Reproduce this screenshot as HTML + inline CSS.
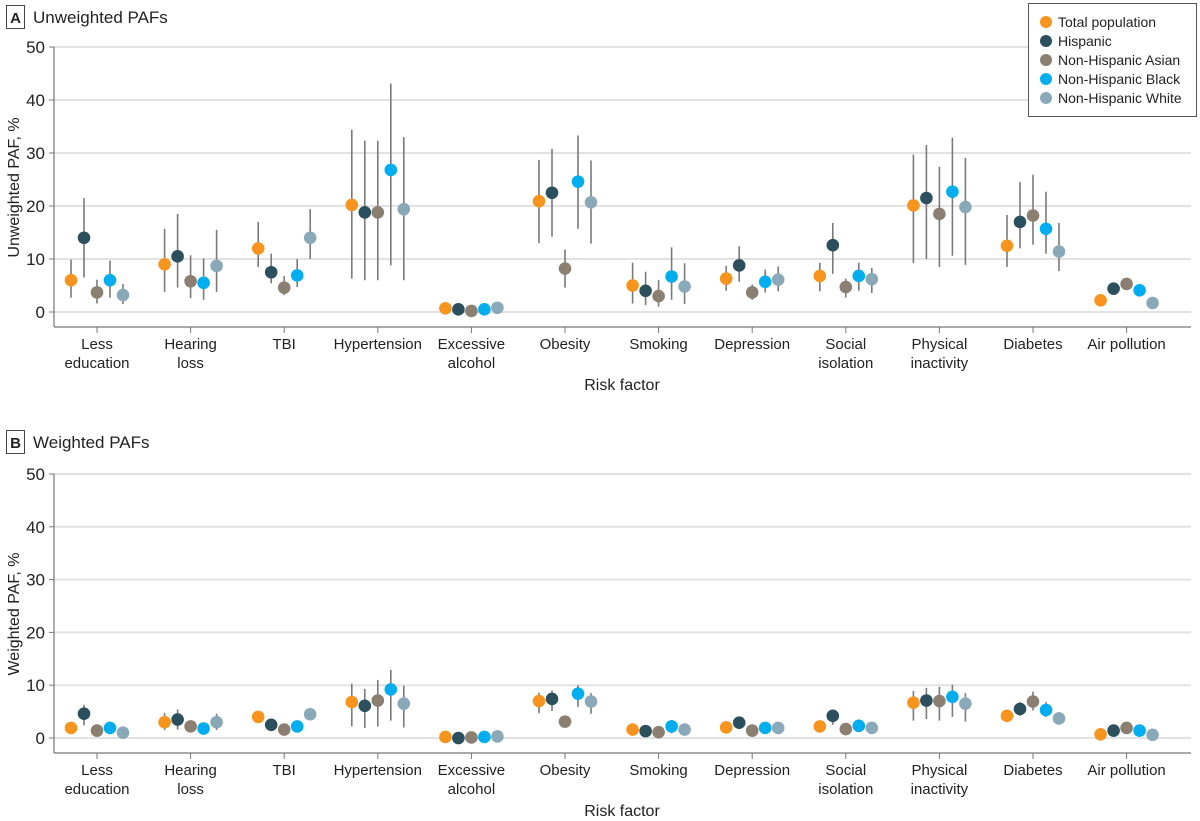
<!DOCTYPE html>
<html><head><meta charset="utf-8"><style>
html,body{margin:0;padding:0;background:#fff;}
svg{display:block;font-family:"Liberation Sans",sans-serif;}
</style></head><body>
<svg id="chart" width="1200" height="821" viewBox="0 0 1200 821" xmlns="http://www.w3.org/2000/svg">
<g>
<rect x="6.5" y="5.5" width="18" height="23" fill="none" stroke="#444" stroke-width="1"/>
<text x="15.5" y="23" font-size="15" font-weight="bold" text-anchor="middle" fill="#222">A</text>
<text x="33" y="23" font-size="17" fill="#222">Unweighted PAFs</text>
</g>
<g>
<rect x="6.5" y="430.5" width="18" height="23" fill="none" stroke="#444" stroke-width="1"/>
<text x="15.5" y="448" font-size="15" font-weight="bold" text-anchor="middle" fill="#222">B</text>
<text x="33" y="448" font-size="17" fill="#222">Weighted PAFs</text>
</g>
<g id="pa"></g>
<g id="pb"></g>
<g>
<rect x="1028.5" y="3.5" width="168" height="113" fill="#fff" stroke="#555" stroke-width="1"/>
<g><circle cx="1046" cy="22" r="6" fill="#f7941d"/><text x="1058" y="27" font-size="14" fill="#222">Total population</text></g>
<g><circle cx="1046" cy="41" r="6" fill="#2b4f5d"/><text x="1058" y="46" font-size="14" fill="#222">Hispanic</text></g>
<g><circle cx="1046" cy="60" r="6" fill="#8a7f70"/><text x="1058" y="65" font-size="14" fill="#222">Non-Hispanic Asian</text></g>
<g><circle cx="1046" cy="79" r="6" fill="#00aeef"/><text x="1058" y="84" font-size="14" fill="#222">Non-Hispanic Black</text></g>
<g><circle cx="1046" cy="98" r="6" fill="#8aa9b8"/><text x="1058" y="103" font-size="14" fill="#222">Non-Hispanic White</text></g>
</g>
</svg>
<script>
const categories = [["Less","education"],["Hearing","loss"],["TBI"],["Hypertension"],["Excessive","alcohol"],["Obesity"],["Smoking"],["Depression"],["Social","isolation"],["Physical","inactivity"],["Diabetes"],["Air pollution"]];
const seriesNames = ["Total population","Hispanic","Non-Hispanic Asian","Non-Hispanic Black","Non-Hispanic White"];
const seriesColors = ["#f7941d","#2b4f5d","#8a7f70","#00aeef","#8aa9b8"];
const yTicks = [0,10,20,30,40,50];
// Panel A: [category][series] = [estimate, low, high]
const unweightedTotal = [[6,2.7,9.9],[9,3.8,15.7],[12,8.5,17],[20.2,6.3,34.4],[0.7,0.7,0.7],[20.9,13,28.7],[5,1.6,9.3],[6.3,4,8.7],[6.8,3.9,9.3],[20.1,9.2,29.7],[12.5,8.5,18.3],[2.2,2.2,2.2]];
const unweightedHispanic = [[14,6.5,21.5],[10.5,4.6,18.5],[7.5,5.4,11],[18.8,6,32.3],[0.5,0.5,0.5],[22.5,14.2,30.8],[4,1.3,7.6],[8.8,5.7,12.4],[12.6,7.2,16.8],[21.5,10,31.5],[17,12,24.5],[4.4,3.5,5]];
const unweightedAsian = [[3.7,1.6,6.1],[5.8,2.6,10.7],[4.6,3.2,6.8],[18.8,6,32.3],[0.2,0.2,0.2],[8.2,4.6,11.8],[3,1,6],[3.7,2.3,5.2],[4.7,2.7,6.3],[18.5,8.5,27.4],[18.2,12.7,25.9],[5.3,4.5,6]];
const unweightedBlack = [[6,2.7,9.7],[5.5,2.3,10.1],[6.9,4.7,10],[26.8,8.8,43.1],[0.5,0.5,0.5],[24.6,15.7,33.3],[6.7,2.3,12.2],[5.7,3.7,8],[6.8,4,9.3],[22.7,10.6,32.9],[15.7,11,22.7],[4.1,3.5,4.8]];
const unweightedWhite = [[3.2,1.5,5.3],[8.7,3.8,15.5],[14,10,19.4],[19.4,6,33],[0.8,0.8,0.8],[20.7,12.9,28.6],[4.8,1.5,9.2],[6.1,3.9,8.6],[6.2,3.6,8.3],[19.8,8.9,29.1],[11.4,7.7,16.8],[1.7,1.7,1.7]];
// Panel B
const weightedTotal = [[1.9,1.9,1.9],[3,1.5,4.7],[4,4,4],[6.8,2.2,10.3],[0.2,0.2,0.2],[7,4.7,8.6],[1.6,1.6,1.6],[2,2,2],[2.2,2.2,2.2],[6.7,3.3,8.9],[4.2,4.2,5.4],[0.7,0.7,0.7]];
const weightedHispanic = [[4.6,2.4,6.3],[3.5,1.6,5.4],[2.5,2.5,2.5],[6.1,1.9,9.3],[0,0,0],[7.4,5.1,9],[1.3,1.3,1.3],[2.9,2.9,2.9],[4.2,2.5,4.9],[7.1,3.6,9.5],[5.5,4.2,6.8],[1.4,1.4,1.4]];
const weightedAsian = [[1.4,1.4,1.4],[2.2,1.3,3],[1.6,1.6,1.6],[7.1,2.2,11],[0.1,0.1,0.1],[3.1,2.3,4],[1.1,1.1,1.1],[1.4,1.4,1.4],[1.7,1.7,1.7],[7,3.3,9.7],[6.9,5.2,8.8],[1.9,1.9,1.9]];
const weightedBlack = [[1.9,1.9,1.9],[1.8,1,2.8],[2.2,2.2,2.2],[9.2,3.3,12.9],[0.2,0.2,0.2],[8.4,5.9,10],[2.2,0.9,3.4],[1.9,1.9,1.9],[2.3,2.3,2.3],[7.8,4,10.1],[5.3,4,6.8],[1.4,1.4,1.4]];
const weightedWhite = [[1,1,1],[3,1.5,4.6],[4.5,3.6,5.5],[6.5,2,9.9],[0.3,0.3,0.3],[6.9,4.6,8.5],[1.6,1,2.5],[1.9,1.9,1.9],[1.9,1.9,1.9],[6.5,3.1,8.5],[3.7,2.9,4.9],[0.6,0.6,0.6]];

const NS="http://www.w3.org/2000/svg";
function mk(tag,attrs,parent){const e=document.createElementNS(NS,tag);for(const k in attrs)e.setAttribute(k,attrs[k]);parent.appendChild(e);return e;}
const xLeft=54,xRight=1191,cx0=97,cstep=93.6,offs=[-26,-13,0,13,26];
function xScale(i){return cx0+i*cstep;}
function drawPanel(g,top,zero,title,series){
  const y=v=>zero-(zero-top)*v/50;
  const axisY=zero+15;
  yTicks.forEach(t=>{
    const gl=mk('line',{x1:xLeft,x2:xRight,y1:y(t),y2:y(t),stroke:'#e2e2e2','stroke-width':2},g);
    
    
    mk('line',{x1:xLeft-5,x2:xLeft,y1:y(t),y2:y(t),stroke:'#777','stroke-width':1},g);
    const tl=mk('text',{x:xLeft-9,y:y(t)+6,'font-size':17,'text-anchor':'end',fill:'#222'},g);
    tl.textContent=t;
    
    
  });
  mk('line',{x1:xLeft,x2:xLeft,y1:top,y2:axisY,stroke:'#777','stroke-width':1.2},g);
  mk('line',{x1:xLeft,x2:xRight,y1:axisY,y2:axisY,stroke:'#777','stroke-width':1.2},g);
  categories.forEach((c,i)=>{
    mk('line',{x1:xScale(i),x2:xScale(i),y1:axisY,y2:axisY+6,stroke:'#777','stroke-width':1},g);
    c.forEach((ln,j)=>{
      const t=mk('text',{x:xScale(i),y:axisY+22+j*19,'font-size':15,'text-anchor':'middle',fill:'#222'},g);
      t.textContent=ln;
      
      
    });
  });
  const xt=mk('text',{x:622,y:axisY+63,'font-size':16,'text-anchor':'middle',fill:'#222'},g);
  xt.textContent='Risk factor';
  
  
  const yt=mk('text',{x:0,y:0,'font-size':16,'text-anchor':'middle',fill:'#222',transform:`translate(19,${(top+zero)/2+8}) rotate(-90)`},g);
  yt.textContent=title;
  
  
  series.forEach((s,si)=>{
    s.forEach((d,ci)=>{
      const x=xScale(ci)+offs[si];
      if(d[2]-d[1]>0){
        const eb=mk('line',{x1:x,x2:x,y1:y(d[1]),y2:y(d[2]),stroke:'#7a7a7a','stroke-width':1.6},g);
        
        
      }
      const p=mk('circle',{cx:x,cy:y(d[0]),r:6.3,fill:seriesColors[si]},g);
      
      
    });
  });
}
drawPanel(document.getElementById('pa'),47,312,'Unweighted PAF, %',[unweightedTotal,unweightedHispanic,unweightedAsian,unweightedBlack,unweightedWhite]);
drawPanel(document.getElementById('pb'),474,738,'Weighted PAF, %',[weightedTotal,weightedHispanic,weightedAsian,weightedBlack,weightedWhite]);
</script>
</body></html>
